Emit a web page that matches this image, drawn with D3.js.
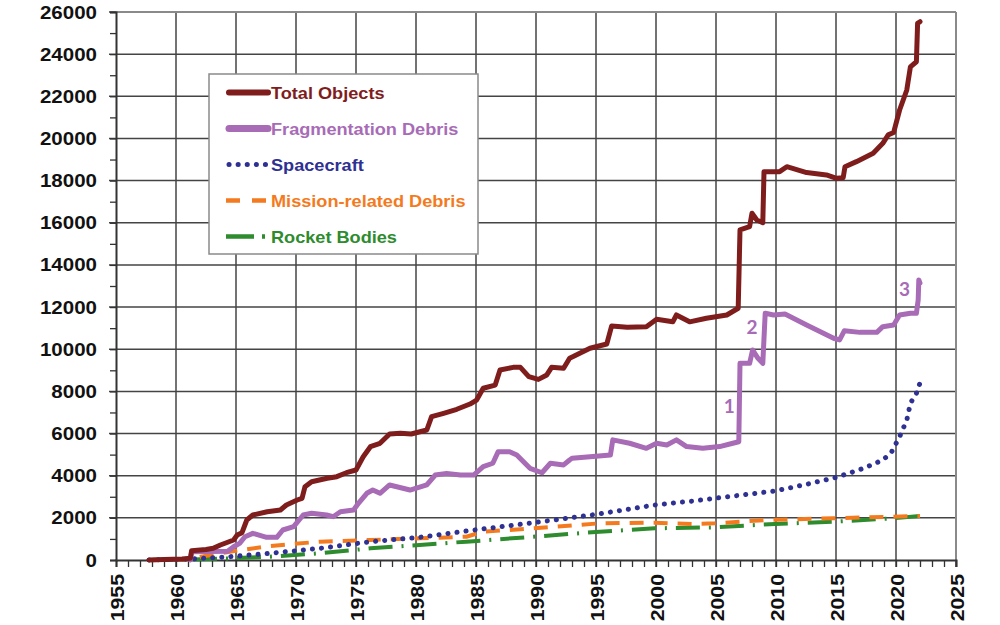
<!DOCTYPE html>
<html><head><meta charset="utf-8">
<script src="https://cdn.jsdelivr.net/npm/d3@7/dist/d3.min.js"></script>
<style>
html,body{margin:0;padding:0;background:#fff;}
svg{display:block;font-family:"Liberation Sans",Arial,sans-serif;}
</style></head>
<body><svg id="chart" width="1000" height="625"></svg>
<script>
// ---- data ----
const xTicks = [1955,1960,1965,1970,1975,1980,1985,1990,1995,2000,2005,2010,2015,2020,2025];
const yTicks = [0,2000,4000,6000,8000,10000,12000,14000,16000,18000,20000,22000,24000,26000];
const seriesNames = ["Total Objects","Fragmentation Debris","Spacecraft","Mission-related Debris","Rocket Bodies"];

const totalObjects = [
 [1957.75,0],[1959,20],[1960.5,50],[1961.2,80],[1961.3,440],[1962.5,500],[1963.1,555],[1963.7,712],[1964.8,950],[1965.1,1186],
 [1965.5,1296],[1965.9,1898],[1966.4,2135],[1967.6,2292],[1968.7,2372],[1969.2,2610],[1970.1,2847],[1970.5,2927],
 [1970.75,3478],[1971.3,3715],[1972.6,3876],[1973.4,3953],[1974.2,4142],[1975.0,4270],[1975.6,4900],[1976.2,5376],
 [1977,5537],[1977.8,5979],[1978.7,6012],[1979.6,5979],[1980.9,6168],[1981.3,6800],[1982.3,6960],[1983.4,7150],
 [1984.5,7400],[1985.05,7590],[1985.6,8150],[1986.6,8300],[1987,9015],[1988.1,9140],[1988.7,9140],[1989.4,8700],
 [1990.2,8570],[1990.9,8780],[1991.3,9140],[1992.3,9095],[1992.8,9570],[1993.1,9650],[1994.5,10045],[1995.9,10250],
 [1996.3,11100],[1997.6,11040],[1999.2,11070],[2000.05,11420],[2001.4,11300],[2001.7,11625],[2002.8,11300],
 [2004.2,11470],[2005.9,11625],[2006.85,11945],[2007.0,15660],[2007.8,15815],[2008.0,16450],[2008.4,16130],
 [2008.9,16005],[2009.0,18425],[2010.3,18425],[2010.9,18660],[2012.55,18380],[2014.2,18270],[2015.05,18110],
 [2015.6,18140],[2015.75,18660],[2016.7,18900],[2018.1,19300],[2018.9,19770],[2019.35,20170],[2019.8,20280],
 [2020.3,21350],[2020.9,22300],[2021.2,23400],[2021.7,23640],[2021.8,25460],[2022.0,25540]
];
const fragmentationDebris = [
 [1961.2,0],[1961.3,395],[1964.3,420],[1964.8,630],[1965.3,790],[1965.75,1105],[1966.4,1265],[1967.55,1075],[1968.4,1075],
 [1968.9,1423],[1969.8,1580],[1970.6,2135],[1971.3,2215],[1972.55,2135],[1973.1,2055],[1973.7,2290],[1974.8,2372],
 [1975.2,2690],[1975.9,3165],[1976.4,3320],[1977,3165],[1977.8,3560],[1979.5,3320],[1980.9,3560],[1981.6,4030],
 [1982.55,4110],[1983.7,4030],[1984.8,4030],[1985.6,4430],[1986.4,4590],[1986.85,5140],[1987.8,5140],[1988.4,4980],
 [1989.5,4350],[1990.5,4140],[1991.2,4590],[1992.3,4510],[1992.8,4745],[1993,4825],[1994.5,4900],[1996.2,4980],
 [1996.4,5700],[1997.8,5540],[1999.2,5300],[2000.05,5540],[2000.9,5460],[2001.7,5700],[2002.55,5380],[2003.9,5300],
 [2005.3,5380],[2006.4,5540],[2006.9,5610],[2007.0,9330],[2007.8,9330],[2008.05,9965],[2008.5,9570],[2008.9,9330],
 [2009.1,11705],[2009.8,11625],[2010.75,11670],[2012.55,11150],[2014.8,10520],[2015.3,10440],[2015.7,10880],
 [2017,10800],[2018.4,10800],[2018.9,11070],[2019.8,11150],[2020.3,11625],[2021.2,11705],[2021.7,11705],
 [2021.85,12340],[2021.9,13290],[2022.0,13140]
];
const spacecraft = [
 [1957.75,0],[1961,40],[1964.5,157],[1967.8,316],[1972,553],[1976.2,870],[1980.3,1077],[1984.8,1420],[1989.8,1770],
 [1995.05,2168],[1999.9,2610],[2003.1,2800],[2004.9,2927],[2009.9,3274],[2012.3,3560],[2015.05,3924],[2017.3,4350],
 [2018.9,4745],[2019.6,5090],[2020.3,5850],[2020.9,6640],[2021.2,7435],[2021.7,7910],[2022.0,8400]
];
const missionDebris = [
 [1958,0],[1960.9,33],[1964.5,395],[1967.8,664],[1972,870],[1976.2,950],[1980.3,1030],[1984.2,1105],[1985.6,1343],
 [1989.8,1504],[1995.3,1740],[1999.9,1770],[2003.1,1708],[2004.9,1740],[2009.2,1898],[2014.8,1978],[2019.8,2055],[2022.0,2090]
];
const rocketBodies = [
 [1957.75,0],[1962,33],[1964.5,80],[1967.8,157],[1972,316],[1976.2,553],[1980.3,712],[1984.2,870],[1989.8,1105],
 [1995.3,1343],[1999.9,1504],[2004.9,1550],[2009.9,1708],[2014.8,1817],[2019.8,1978],[2022.0,2088]
];
const annotations = [["1",2006.1,6960],["2",2008.0,10710],["3",2020.7,12530]];

// ---- chart ----
const svg = d3.select("#chart");
const x = d3.scaleLinear().domain([1955,2025]).range([116,956]);
const y = d3.scaleLinear().domain([0,26000]).range([560,12]);

const gridColor = "#444";
// grid
svg.append("g").selectAll("line").data(yTicks.slice(1)).join("line")
  .attr("x1",109).attr("x2",956).attr("y1",d=>y(d)).attr("y2",d=>y(d))
  .attr("stroke",gridColor).attr("stroke-width",1.5);
svg.append("g").selectAll("line").data(xTicks.slice(1)).join("line")
  .attr("x1",d=>x(d)).attr("x2",d=>x(d)).attr("y1",12).attr("y2",567)
  .attr("stroke",gridColor).attr("stroke-width",1.5);
// frame top/right lighter
svg.append("line").attr("x1",116).attr("x2",956).attr("y1",12).attr("y2",12).attr("stroke","#8a8a8a").attr("stroke-width",2);
svg.append("line").attr("x1",956).attr("x2",956).attr("y1",12).attr("y2",560).attr("stroke","#8a8a8a").attr("stroke-width",2);

// axes
const xAxis = d3.axisBottom(x).tickValues(d3.range(1955,2026,1)).tickSize(7).tickFormat("");
const gx = svg.append("g").attr("transform","translate(0,560)").call(xAxis);
gx.select(".domain").attr("stroke","#333").attr("stroke-width",2);
gx.selectAll(".tick line").attr("stroke","#333").attr("stroke-width",1.3);
const yAxis = d3.axisLeft(y).tickValues(d3.range(0,26001,1000)).tickSize(6).tickFormat("");
const gy = svg.append("g").attr("transform","translate(116,0)").call(yAxis);
gy.select(".domain").attr("stroke","#333").attr("stroke-width",2);
gy.selectAll(".tick line").attr("stroke","#333").attr("stroke-width",1.3);

// tick labels
svg.append("g").selectAll("text").data(yTicks).join("text")
  .attr("transform",d=>`translate(97,${y(d)+6.5}) scale(1.14,1)`)
  .attr("text-anchor","end").attr("font-size",18).attr("font-weight","bold").attr("fill","#111")
  .text(d=>d);
svg.append("g").selectAll("text").data(xTicks).join("text")
  .attr("transform",d=>`translate(${x(d)+7.5},574) rotate(-90) scale(1.12,1)`)
  .attr("text-anchor","end").attr("font-size",19).attr("font-weight","bold").attr("fill","#111")
  .text(d=>d);

// lines
const line = d3.line().x(d=>x(d[0])).y(d=>y(d[1]));
const styles = [
  {data:rocketBodies, color:"#2e8b2e", w:4, dash:"24 9 2 9", cap:"butt"},
  {data:missionDebris, color:"#f47a20", w:4, dash:"14 10", cap:"butt"},
  {data:spacecraft, color:"#2e3192", w:5, dash:"0.1 9", cap:"round"},
  {data:fragmentationDebris, color:"#a86bb6", w:5, dash:null, cap:"round"},
  {data:totalObjects, color:"#7f1d1d", w:5, dash:null, cap:"round"}
];
styles.forEach(s=>{
  svg.append("path").datum(s.data).attr("d",line).attr("fill","none")
    .attr("stroke",s.color).attr("stroke-width",s.w).attr("stroke-linejoin","round")
    .attr("stroke-linecap",s.cap).attr("stroke-dasharray",s.dash);
});

// annotations
svg.append("g").selectAll("text").data(annotations).join("text")
  .attr("x",d=>x(d[1])).attr("y",d=>y(d[2])).attr("text-anchor","middle")
  .attr("font-family","Lato, 'Open Sans', sans-serif").attr("font-weight","bold").attr("font-size",19)
  .attr("fill","#a86bb6").text(d=>d[0]);

// legend
const lg = svg.append("g");
lg.append("rect").attr("x",209).attr("y",74).attr("width",269).attr("height",180)
  .attr("fill","#fff").attr("stroke","#8a8a8a").attr("stroke-width",1.5);
const legendRows = [
  {name:seriesNames[0], color:"#7f1d1d", w:6, dash:null, cap:"round", x2:268},
  {name:seriesNames[1], color:"#a86bb6", w:7, dash:null, cap:"round", x2:268},
  {name:seriesNames[2], color:"#2e3192", w:5, dash:"0.1 9", cap:"round", x2:267},
  {name:seriesNames[3], color:"#f47a20", w:4.5, dash:"14 12", cap:"butt", x2:266},
  {name:seriesNames[4], color:"#2e8b2e", w:4.5, dash:"28 8 3 8", cap:"butt", x2:267}
];
legendRows.forEach((r,i)=>{
  const cy = 92.5 + i*36;
  lg.append("line").attr("x1",r.cap==="round"?229:226).attr("x2",r.x2).attr("y1",cy).attr("y2",cy)
    .attr("stroke",r.color).attr("stroke-width",r.w).attr("stroke-linecap",r.cap).attr("stroke-dasharray",r.dash);
  lg.append("text").attr("transform",`translate(271,${cy+6}) scale(1.1,1)`)
    .attr("font-size",16.5).attr("font-weight","bold").attr("fill",r.color).text(r.name);
});
</script></body></html>
